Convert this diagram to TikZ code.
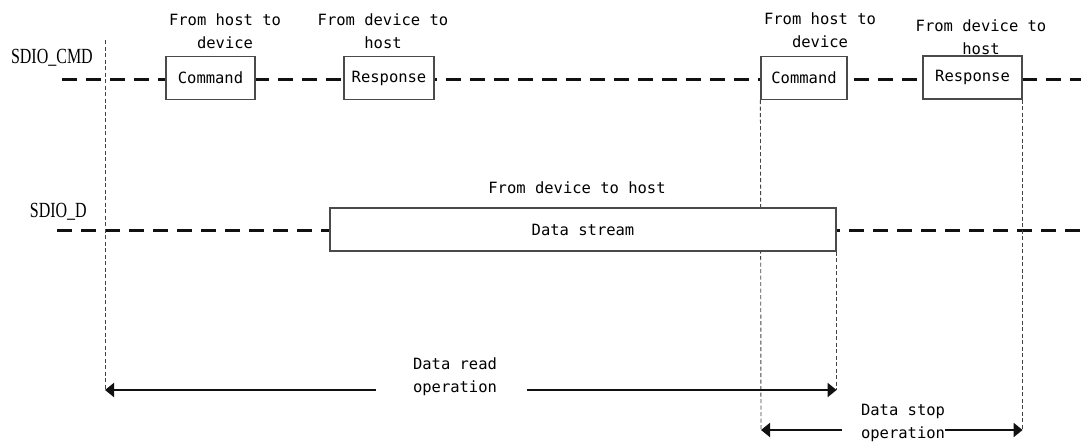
\documentclass[tikz,border=0pt]{standalone}
\usepackage{fontspec}
\usetikzlibrary{positioning,arrows.meta}
\newfontfamily\labelfont{DejaVu Sans Mono}
\newfontfamily\signalfont{Liberation Serif}
\definecolor{ink}{HTML}{111111}
\definecolor{edge}{HTML}{4A4A4A}
\definecolor{guide}{HTML}{444444}

\begin{document}
\begin{tikzpicture}[
  x=1pt, y=-1pt,
  font=\labelfont\fontsize{15.5}{23}\selectfont,
  sig/.style={draw=ink, line width=3pt, dash pattern=on 15pt off 9pt},
  guideline/.style={draw=guide, line width=0.9pt, dash pattern=on 4pt off 2.5pt},
  pkt/.style={draw=edge, fill=white, line width=1.2pt,
              minimum height=43pt, inner sep=0pt},
  dirlab/.style={align=center, inner sep=0pt},
  signame/.style={font=\signalfont\fontsize{16}{18}\selectfont, inner sep=0pt},
  span/.style={draw=ink, line width=2pt, -{Triangle[length=9pt,width=14pt]}},
]
\useasboundingbox[fill=white] (0,0) rectangle (1081,445);

% signal names
\node[signame, anchor=east] (cmdname) at (93,58) {\scalebox{1}[1.35]{SDIO\_CMD}};
\node[signame, anchor=east] (datname) at (87,212) {\scalebox{1}[1.35]{SDIO\_D}};

% end points of the lines
\coordinate (cmdl) at (62,79);
\coordinate (cmdr) at (1081,79);
\coordinate (datl) at (57,230);
\coordinate (datr) at (1081,230);
\coordinate (guidetop) at (105,40);
\coordinate (readl) at (105,390);
\coordinate (stopl) at (761,430);

% bus lines
\draw[sig] (cmdl) -- (cmdr);
\draw[sig] (datl) -- (datr);

% packets
\node[pkt, minimum width=89pt] (cmd1) at (210.5,78) {Command};
\node[pkt, minimum width=90pt] (rsp1) at (389,78) {Response};
\node[pkt, minimum width=86pt] (cmd2) at (804,78) {Command};
\node[pkt, minimum width=99pt] (rsp2) at (972.5,77.5) {Response};
\path (583,229.5) node[pkt, draw=none, minimum width=506pt] (data) {};

\coordinate (readr) at (data.south east |- readl);
\coordinate (stopr) at (rsp2.south east |- stopl);

% timing guides
\draw[guideline] (guidetop) -- (readl);
\draw[guideline] (cmd2.south west) -- (stopl);
\draw[guideline] (rsp2.south east) -- (stopr);
\draw[guideline] (data.south east) -- (readr);

\node[pkt, minimum width=506pt] at (data) {Data stream};

% directions
\node[dirlab] (cmd1lab) at (225,31) {From host to\\device};
\node[dirlab] (rsp1lab) at (383,31) {From device to\\host};
\node[dirlab] (cmd2lab) at (820,30) {From host to\\device};
\node[dirlab] (rsp2lab) at (981,37) {From device to\\host};
\node[dirlab] (datlab) at (577,188) {From device to host};

% operations
\node[dirlab] (readtxt) at (455,377) {Data read\\operation};
\node[dirlab] (stoptxt) at (903,423) {Data stop\\operation};
\path (readtxt.west) ++(-37,0) coordinate (readgapl);
\path (readtxt.east) ++(30,0) coordinate (readgapr);
\path (stoptxt.west) ++(-19,0) coordinate (stopgapl);
\draw[span] (readgapl |- readl) -- (readl);
\draw[span] (readgapr |- readr) -- (readr);
\draw[span] (stopgapl |- stopl) -- (stopl);
\draw[span] (stoptxt.east |- stopr) -- (stopr);
\end{tikzpicture}
\end{document}
